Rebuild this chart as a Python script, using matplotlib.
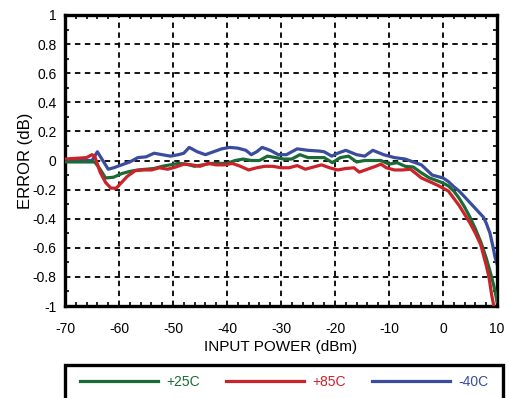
import matplotlib.pyplot as plt
from matplotlib.patches import Rectangle
from matplotlib.ticker import MultipleLocator

plt.rcParams['font.family'] = ['Liberation Sans', 'DejaVu Sans']
plt.rcParams['axes.unicode_minus'] = False

# +25C
x_25 = [-70, -68, -66, -64.5, -63.5, -62.5, -61, -59.5, -58, -56.5, -55, -53.5, -52, -50.5,
        -49, -47.5, -46, -44.5, -43, -41.5, -40, -38.5, -37, -35.5, -34, -32.5, -31, -29.5,
        -28, -26.5, -25, -23.5, -22, -20.5, -19, -17.5, -16, -14.5, -13, -11.5, -10, -8.5,
        -7, -5.5, -4, -2.5, -1, 0, 1, 2, 3, 4, 5, 6, 7, 8, 9, 9.6, 10]
err_25 = [-0.01, -0.01, -0.01, -0.01, -0.06, -0.12, -0.115, -0.09, -0.075, -0.065, -0.06, -0.055,
          -0.04, -0.03, -0.02, -0.025, -0.04, -0.03, -0.02, -0.02, -0.02, 0.0, 0.01, 0.0, 0.0,
          0.03, 0.02, 0.01, 0.01, 0.04, 0.02, 0.02, 0.02, -0.015, 0.02, 0.03, -0.01, 0.0, 0.0,
          0.0, -0.025, -0.015, -0.04, -0.045, -0.085, -0.12, -0.14, -0.155, -0.175, -0.21, -0.26,
          -0.32, -0.39, -0.47, -0.56, -0.67, -0.8, -0.89, -0.97]

# +85C
x_85 = [-70, -68, -66, -65, -64.5, -63.5, -62.5, -61.5, -60.5, -59.5, -58.5, -57, -55.5, -54,
        -52.5, -51, -49.5, -48, -46.5, -45, -43.5, -42, -40.5, -39, -37.5, -36, -34.5, -33,
        -31.5, -30, -28.5, -27, -25.5, -24, -22.5, -21, -19.5, -18, -16.5, -15.5, -14, -12.5,
        -11.5, -10.5, -9, -7.5, -6, -5, -4, -2.5, -1, 0, 1, 2, 3, 4, 5, 6, 7, 8, 8.5, 9, 9.4, 10]
err_85 = [0.01, 0.015, 0.02, 0.04, 0.03, -0.08, -0.15, -0.19, -0.19, -0.15, -0.11, -0.07, -0.065,
          -0.065, -0.05, -0.06, -0.045, -0.025, -0.03, -0.04, -0.02, -0.03, -0.03, -0.02, -0.04,
          -0.065, -0.05, -0.04, -0.04, -0.05, -0.05, -0.035, -0.06, -0.045, -0.03, -0.05, -0.065,
          -0.055, -0.05, -0.08, -0.06, -0.04, -0.025, -0.05, -0.065, -0.065, -0.06, -0.09, -0.12,
          -0.145, -0.17, -0.19, -0.21, -0.26, -0.31, -0.37, -0.43, -0.5, -0.58, -0.72, -0.8,
          -0.92, -1.0, -1.1]

# -40C
x_m40 = [-70, -68, -66, -65, -64, -63, -62, -61, -59.5, -58, -56.5, -55, -53.5, -52, -50.5, -49,
         -48, -47, -45.5, -44, -42.5, -41, -39.5, -38, -36.5, -35.5, -34.5, -33.5, -32, -30.5,
         -29, -27, -25, -23, -22, -20.6, -19.5, -18, -16, -14.5, -13, -11, -9, -7, -5.5, -4,
         -3, -2, -1, 0, 1, 2, 3, 4, 5, 6, 7, 7.5, 8, 8.7, 9.3, 9.6, 10]
err_m40 = [0.0, 0.0, 0.0, 0.0, 0.06, 0.0, -0.06, -0.05, -0.03, -0.01, 0.02, 0.025, 0.05, 0.04,
           0.03, 0.04, 0.05, 0.09, 0.06, 0.04, 0.06, 0.08, 0.09, 0.085, 0.07, 0.04, 0.06, 0.09,
           0.07, 0.04, 0.04, 0.08, 0.07, 0.065, 0.06, 0.03, 0.05, 0.07, 0.04, 0.03, 0.07, 0.04,
           0.02, 0.01, -0.01, -0.03, -0.065, -0.1, -0.11, -0.12, -0.145, -0.18, -0.21, -0.25,
           -0.29, -0.33, -0.37, -0.39, -0.43, -0.5, -0.6, -0.66, -0.71]

x_ticks = [-70, -60, -50, -40, -30, -20, -10, 0, 10]
y_ticks = [1, 0.8, 0.6, 0.4, 0.2, 0, -0.2, -0.4, -0.6, -0.8, -1]
y_labels = ['1', '0.8', '0.6', '0.4', '0.2', '0', '-0.2', '-0.4', '-0.6', '-0.8', '-1']

green = '#1a6b35'
red = '#cc2229'
blue = '#3a4c9e'

fig = plt.figure(figsize=(5.08, 3.98), dpi=100)
ax = fig.add_axes([65 / 508, 1 - 306 / 398, 432 / 508, 291 / 398])

ax.plot(x_25, err_25, color=green, lw=2.3, label='+25C', zorder=3)
ax.plot(x_85, err_85, color=red, lw=2.3, label='+85C', zorder=4)
ax.plot(x_m40, err_m40, color=blue, lw=2.3, label='-40C', zorder=2)

ax.set_xlim(-70, 10)
ax.set_ylim(-1, 1)
ax.set_xticks(x_ticks)
ax.set_yticks(y_ticks)
ax.set_yticklabels(y_labels)
ax.xaxis.set_minor_locator(MultipleLocator(2))
ax.yaxis.set_minor_locator(MultipleLocator(0.1))
ax.tick_params(which='both', direction='in', top=True, right=True, labelsize=10, width=1.2)
ax.tick_params(which='major', length=0)
ax.tick_params(which='minor', length=3)
ax.tick_params(axis='x', pad=11.5)
ax.tick_params(axis='y', pad=6)
ax.grid(True, color='black', linestyle=(0, (3, 2.5)), linewidth=1.3)
for s in ax.spines.values():
    s.set_linewidth(2.4)

ax.set_xlabel('INPUT POWER (dBm)', fontsize=11, labelpad=3)
ax.set_ylabel('ERROR (dB)', fontsize=12, labelpad=0)

# legend box running off the bottom edge
fig.patches.append(Rectangle((65 / 508, -0.05), 438 / 508, 1 - 365 / 398 + 0.05,
                             transform=fig.transFigure, fill=False, edgecolor='black',
                             linewidth=2.4))
fig.legend(loc='center', bbox_to_anchor=(284 / 508, 1 - 382 / 398), ncol=3, frameon=False,
           fontsize=10, handlelength=5.6, handletextpad=0.6, columnspacing=1.9,
           labelcolor='linecolor')

fig.savefig('out.png', dpi=100)
